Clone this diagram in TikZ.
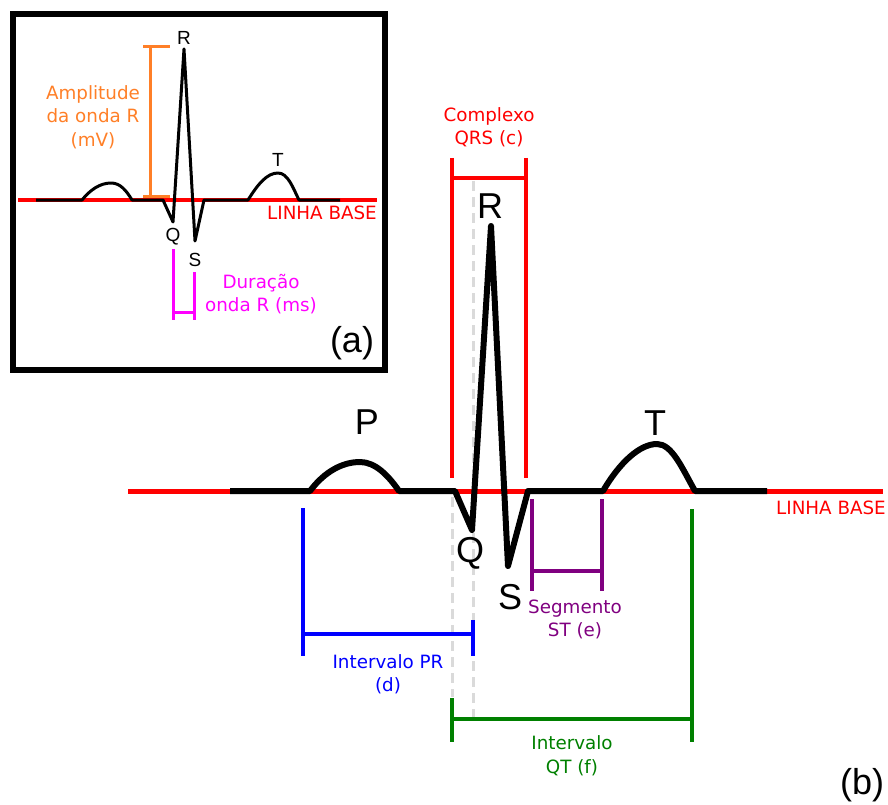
\documentclass[tikz,border=0pt]{standalone}
\usepackage{fontspec}
\setmainfont{DejaVu Sans}
\newfontfamily\arialf{Liberation Sans}
\definecolor{ecgred}{HTML}{FF0000}
\definecolor{ecgblue}{HTML}{0000FF}
\definecolor{ecgpurple}{HTML}{800080}
\definecolor{ecggreen}{HTML}{008000}
\definecolor{ecgorange}{HTML}{FF7F27}
\definecolor{ecgmagenta}{HTML}{FF00FF}
\definecolor{ecggray}{HTML}{DADADA}
\tikzset{
  lbl/.style={inner sep=0pt, align=center, font=\fontsize{18.3}{23.5}\selectfont},
  bigletter/.style={inner sep=0pt, font=\arialf\fontsize{36}{36}\selectfont},
  smallletter/.style={inner sep=0pt, font=\arialf\fontsize{19}{19}\selectfont},
  wave/.style={line width=6pt, line join=round},
  wavesmall/.style={line width=3pt, line join=round},
  baseline/.style={ecgred, line width=5pt},
  baselinesmall/.style={ecgred, line width=3.5pt},
  bar/.style={line width=4.5pt},
  barsmall/.style={line width=3pt},
  guide/.style={ecggray, line width=3pt, dash pattern=on 10pt off 6pt}
}
\begin{document}
\begin{tikzpicture}[x=1pt,y=-1pt]
\useasboundingbox (0,0) rectangle (888,805);

% ---------------- inset (a) ----------------
\draw[line width=6pt] (13,14) rectangle (385,370);
\draw[baselinesmall] (18,200) -- (377,200);
\draw[wavesmall] (36,200) -- (82,200)
  .. controls (90,190) and (100,183) .. (111,183)
  .. controls (120,183) and (126,190) .. (132,200)
  -- (163,200) -- (173,222) -- (184,49) -- (195,241) -- (204,200) -- (248,200)
  .. controls (258,184) and (267,173) .. (278,173)
  .. controls (288,173) and (293,188) .. (299,200) -- (340,200);
% amplitude bar
\draw[barsmall, ecgorange] (150,47) -- (150,196);
\draw[barsmall, ecgorange] (143,47) -- (170,47);
\draw[barsmall, ecgorange] (143,196) -- (170,196);
\node[lbl, text=ecgorange] (amp) at (93,117) {Amplitude\\da onda R\\(mV)};
% duration bar
\draw[barsmall, ecgmagenta] (173,249) -- (173,320);
\draw[barsmall, ecgmagenta] (194,272) -- (194,320);
\draw[barsmall, ecgmagenta] (173,312) -- (194,312);
\node[lbl, text=ecgmagenta] (dur) at (261,294) {Duração\\onda R (ms)};
\node[lbl, text=ecgred, anchor=east] (lba) at (377,213) {LINHA BASE};
\node[smallletter] (Ra) at (184,38) {R};
\node[smallletter] (Qa) at (173,237) {Q};
\node[smallletter] (Sa) at (195,260) {S};
\node[smallletter] (Ta) at (278,160) {T};
\node[bigletter] (a) at (352,343) {(a)};

% ---------------- main (b) ----------------
\draw[guide] (452,497) -- (452,697);
\draw[guide] (473,181) -- (473,717);
\draw[baseline] (128,491) -- (883,491);
% QRS complex
\draw[bar, ecgred] (452,158) -- (452,478);
\draw[bar, ecgred] (526,158) -- (526,478);
\draw[bar, ecgred] (452,178) -- (526,178);
\node[lbl, text=ecgred] (qrs) at (489,127.5) {Complexo\\QRS (c)};
% PR interval
\draw[bar, ecgblue] (303,508) -- (303,656);
\draw[bar, ecgblue] (473,620) -- (473,656);
\draw[bar, ecgblue] (303,634) -- (473,634);
\node[lbl, text=ecgblue] (pr) at (388,674) {Intervalo PR\\(d)};
% ST segment
\draw[bar, ecgpurple] (532,499) -- (532,591);
\draw[bar, ecgpurple] (602,499) -- (602,591);
\draw[bar, ecgpurple] (532,571) -- (602,571);
\node[lbl, text=ecgpurple] (st) at (575,619.5) {Segmento\\ST (e)};
% QT interval
\draw[bar, ecggreen] (452,698) -- (452,742);
\draw[bar, ecggreen] (692,509) -- (692,742);
\draw[bar, ecggreen] (452,719) -- (692,719);
\node[lbl, text=ecggreen] (qt) at (572,755.5) {Intervalo\\QT (f)};
% waveform
\draw[wave] (230,491) -- (310,491)
  .. controls (325,471) and (343,462) .. (360,462)
  .. controls (375,462) and (388,475) .. (399,491)
  -- (455,491) -- (472,530) -- (491,226) -- (508,566) -- (528,491) -- (603,491)
  .. controls (620,462) and (640,444) .. (657,444)
  .. controls (672,444) and (682,468) .. (695,491) -- (767,491);
\node[lbl, text=ecgred, anchor=east] (lbb) at (886,508) {LINHA BASE};
\node[bigletter] (P) at (367,422) {P};
\node[bigletter] (R) at (490,206) {R};
\node[bigletter] (Q) at (470,553) {Q};
\node[bigletter] (S) at (510,597) {S};
\node[bigletter] (T) at (655,423) {T};
\node[bigletter] (b) at (862,785) {(b)};
\end{tikzpicture}
\end{document}
